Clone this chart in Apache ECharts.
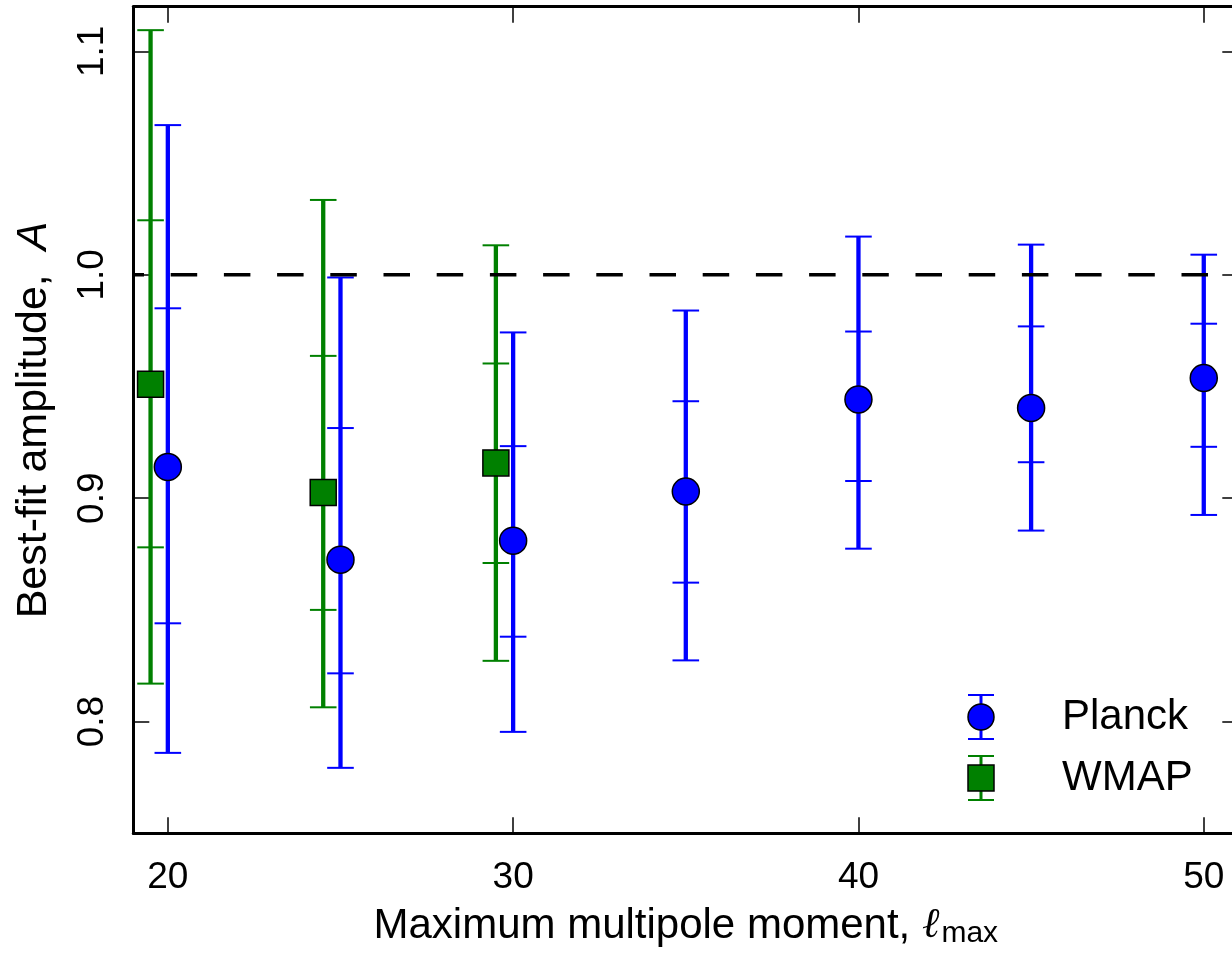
<!DOCTYPE html>
<html>
<head>
<meta charset="utf-8">
<script src="https://cdn.jsdelivr.net/npm/echarts@6/dist/echarts.min.js"></script>
<style>
html,body{margin:0;padding:0;background:#fff;}
#c{width:1232px;height:955px;}
</style>
</head>
<body>
<div id="c"></div>
<script>
// ---- data ----
const planckX   = [20, 25, 30, 35, 40, 45, 50];
const planckA   = [0.914, 0.8725, 0.881, 0.903, 0.9442, 0.9404, 0.9538];
const planckLo1 = [0.844, 0.8216, 0.838, 0.8622, 0.9077, 0.9161, 0.923];
const planckHi1 = [0.985, 0.9314, 0.9233, 0.9434, 0.9746, 0.9769, 0.9781];
const planckLo2 = [0.786, 0.7793, 0.7954, 0.8274, 0.8774, 0.8855, 0.8925];
const planckHi2 = [1.067, 0.9988, 0.9742, 0.984, 1.0171, 1.0135, 1.009];

const wmapX   = [19.5, 24.5, 29.5];
const wmapA   = [0.951, 0.9025, 0.9158];
const wmapLo1 = [0.878, 0.850, 0.871];
const wmapHi1 = [1.0244, 0.9637, 0.9603];
const wmapLo2 = [0.817, 0.8064, 0.8272];
const wmapHi2 = [1.1095, 1.0335, 1.0132];

const refLevel = 1.0;
const xTicks = [20, 30, 40, 50];
const yTicks = [0.8, 0.9, 1.0, 1.1];
const xRange = [19, 51];
const yRange = [0.75, 1.12];

const FONT = 'Liberation Sans';
const BLUE = '#0000ff';
const GREEN = '#008000';

function errRows(xs, c, lo1, hi1, lo2, hi2) {
  return xs.map((x, i) => [x, c[i], lo1[i], hi1[i], lo2[i], hi2[i]]);
}
function ptRows(xs, c) { return xs.map((x, i) => [x, c[i]]); }

function renderErr(params, api) {
  const x = api.value(0);
  const lo2 = api.coord([x, api.value(4)]);
  const hi2 = api.coord([x, api.value(5)]);
  const lo1 = api.coord([x, api.value(2)]);
  const hi1 = api.coord([x, api.value(3)]);
  const color = api.visual('color');
  const hw = 13.3;
  const cap = p => ({type: 'line', shape: {x1: p[0] - hw, y1: p[1], x2: p[0] + hw, y2: p[1]},
                     style: {stroke: color, lineWidth: 2}});
  return {type: 'group', children: [
    {type: 'line', shape: {x1: lo2[0], y1: lo2[1], x2: hi2[0], y2: hi2[1]},
     style: {stroke: color, lineWidth: 4.3}},
    cap(lo2), cap(hi2), cap(lo1), cap(hi1)
  ]};
}

const chart = echarts.init(document.getElementById('c'), null, {renderer: 'canvas'});

const axisLineStyle = {color: '#000', width: 3};
const tickStyle = {color: '#000', width: 1.5};

function legendItem(cy, color, symbol, label) {
  const cx = 981;
  const children = [
    {type: 'line', shape: {x1: cx, y1: cy - 22, x2: cx, y2: cy + 22}, style: {stroke: color, lineWidth: 3}},
    {type: 'line', shape: {x1: cx - 13, y1: cy - 22, x2: cx + 13, y2: cy - 22}, style: {stroke: color, lineWidth: 2}},
    {type: 'line', shape: {x1: cx - 13, y1: cy + 22, x2: cx + 13, y2: cy + 22}, style: {stroke: color, lineWidth: 2}},
    symbol === 'circle'
      ? {type: 'circle', shape: {cx: cx, cy: cy, r: 13}, style: {fill: color, stroke: '#000', lineWidth: 1.5}}
      : {type: 'rect', shape: {x: cx - 13, y: cy - 13, width: 26, height: 26}, style: {fill: color, stroke: '#000', lineWidth: 1.5}},
    {type: 'text', x: 1062, y: cy, style: {text: label, font: '42px "' + FONT + '"', fill: '#000', textVerticalAlign: 'middle', textAlign: 'left'}}
  ];
  return {type: 'group', z: 100, children: children};
}

const option = {
  animation: false,
  backgroundColor: '#fff',
  grid: {left: 133.3, top: 6.7, width: 1105, height: 826.6, containLabel: false, outerBoundsMode: 'none'},
  xAxis: [
    {
      type: 'value', min: xRange[0], max: xRange[1], position: 'bottom',
      axisLine: {show: true, onZero: false, lineStyle: axisLineStyle},
      axisTick: {show: true, inside: true, length: 16, customValues: xTicks, lineStyle: tickStyle},
      axisLabel: {show: true, customValues: xTicks, fontSize: 37, fontFamily: FONT, color: '#000', margin: 26},
      splitLine: {show: false},
      name: 'Maximum multipole moment, {l|ℓ}{s|max}',
      nameLocation: 'middle', nameGap: 71,
      nameTextStyle: {fontSize: 42, fontFamily: FONT, color: '#000',
        rich: {l: {fontSize: 42, fontFamily: 'DejaVu Serif', fontStyle: 'italic', color: '#000'},
               s: {fontSize: 30, fontFamily: FONT, color: '#000', padding: [14, 0, 0, 2]}}}
    },
    {
      type: 'value', min: xRange[0], max: xRange[1], position: 'top',
      axisLine: {show: true, onZero: false, lineStyle: axisLineStyle},
      axisTick: {show: true, inside: true, length: 16, customValues: xTicks, lineStyle: tickStyle},
      axisLabel: {show: false}, splitLine: {show: false}
    }
  ],
  yAxis: [
    {
      type: 'value', min: yRange[0], max: yRange[1], position: 'left',
      axisLine: {show: true, onZero: false, lineStyle: axisLineStyle},
      axisTick: {show: true, inside: true, length: 16, customValues: yTicks, lineStyle: tickStyle},
      axisLabel: {show: true, customValues: yTicks, rotate: 90, fontSize: 37, fontFamily: FONT, color: '#000', margin: 22,
                  formatter: v => Number(v).toFixed(1)},
      splitLine: {show: false},
      name: 'Best-fit amplitude,  {i|A}',
      nameLocation: 'middle', nameGap: 78,
      nameTextStyle: {fontSize: 43, fontFamily: FONT, color: '#000',
        rich: {i: {fontSize: 43, fontFamily: FONT, fontStyle: 'italic', color: '#000'}}}
    },
    {
      type: 'value', min: yRange[0], max: yRange[1], position: 'right',
      axisLine: {show: true, onZero: false, lineStyle: axisLineStyle},
      axisTick: {show: true, inside: true, length: 16, customValues: yTicks, lineStyle: tickStyle},
      axisLabel: {show: false}, splitLine: {show: false}
    }
  ],
  series: [
    {
      name: 'Planck-err', type: 'custom', renderItem: renderErr,
      itemStyle: {color: BLUE}, encode: {x: 0, y: [1, 2, 3, 4, 5]},
      data: errRows(planckX, planckA, planckLo1, planckHi1, planckLo2, planckHi2), z: 2, silent: true
    },
    {
      name: 'WMAP-err', type: 'custom', renderItem: renderErr,
      itemStyle: {color: GREEN}, encode: {x: 0, y: [1, 2, 3, 4, 5]},
      data: errRows(wmapX, wmapA, wmapLo1, wmapHi1, wmapLo2, wmapHi2), z: 2, silent: true
    },
    {
      name: 'ref', type: 'line', data: [[xRange[0], refLevel], [xRange[1], refLevel]],
      symbol: 'none', lineStyle: {color: '#000', width: 3.5, type: [26.5, 26.7], dashOffset: 15.8},
      z: 3, silent: true
    },
    {
      name: 'Planck', type: 'scatter', data: ptRows(planckX, planckA),
      symbol: 'circle', symbolSize: 27,
      itemStyle: {color: BLUE, borderColor: '#000', borderWidth: 1.5, opacity: 1}, z: 4
    },
    {
      name: 'WMAP', type: 'scatter', data: ptRows(wmapX, wmapA),
      symbol: 'rect', symbolSize: 26,
      itemStyle: {color: GREEN, borderColor: '#000', borderWidth: 1.5, opacity: 1}, z: 4
    }
  ],
  graphic: [
    legendItem(717, BLUE, 'circle', 'Planck'),
    legendItem(778, GREEN, 'rect', 'WMAP')
  ]
};
chart.setOption(option);
</script>
</body>
</html>
